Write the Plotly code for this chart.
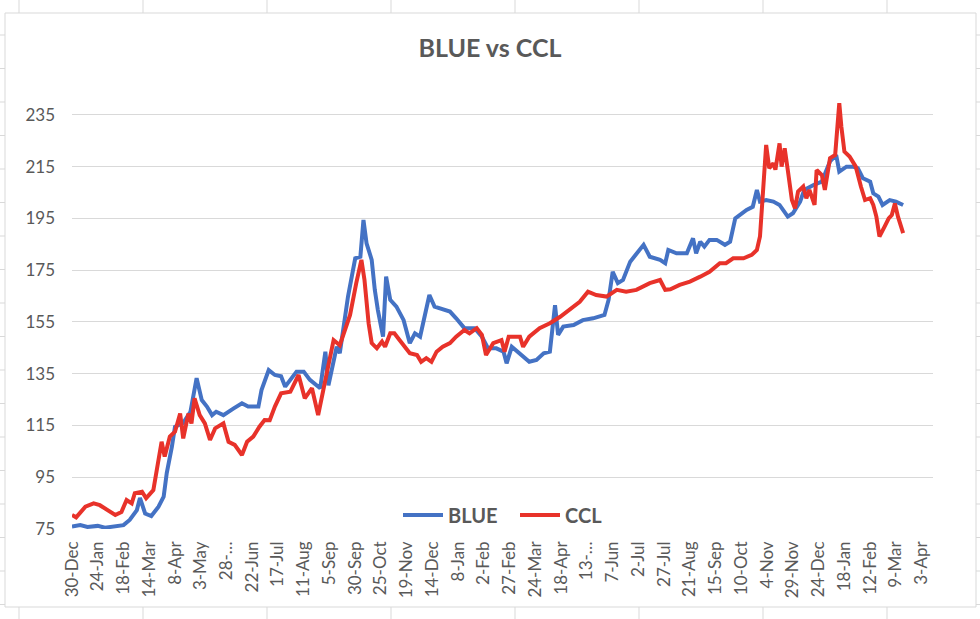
import plotly.graph_objects as go

# ---------------- data ----------------
blue_dates = [
    "2019-12-30", "2020-01-07", "2020-01-14", "2020-01-24", "2020-01-31", "2020-02-08",
    "2020-02-18", "2020-02-24", "2020-03-02", "2020-03-05", "2020-03-10", "2020-03-16",
    "2020-03-23", "2020-03-28", "2020-03-31", "2020-04-05", "2020-04-08", "2020-04-16",
    "2020-04-23", "2020-04-29", "2020-05-04", "2020-05-09", "2020-05-14", "2020-05-18",
    "2020-05-25", "2020-06-04", "2020-06-12", "2020-06-18", "2020-06-28", "2020-07-01",
    "2020-07-08", "2020-07-14", "2020-07-20", "2020-07-24", "2020-08-04", "2020-08-11",
    "2020-08-17", "2020-08-27", "2020-09-01", "2020-09-04", "2020-09-12", "2020-09-15",
    "2020-09-23", "2020-09-30", "2020-10-05", "2020-10-08", "2020-10-11", "2020-10-16",
    "2020-10-19", "2020-10-22", "2020-10-27", "2020-10-30", "2020-11-03", "2020-11-09",
    "2020-11-16", "2020-11-22", "2020-11-27", "2020-12-02", "2020-12-11", "2020-12-16",
    "2020-12-21", "2020-12-31", "2021-01-06", "2021-01-14", "2021-01-24", "2021-01-31",
    "2021-02-06", "2021-02-14", "2021-02-21", "2021-02-24", "2021-03-01", "2021-03-09",
    "2021-03-18", "2021-03-25", "2021-04-01", "2021-04-07", "2021-04-12", "2021-04-15",
    "2021-04-20", "2021-04-30", "2021-05-09", "2021-05-19", "2021-05-30", "2021-06-03",
    "2021-06-07", "2021-06-12", "2021-06-17", "2021-06-24", "2021-07-07", "2021-07-13",
    "2021-07-23", "2021-07-28", "2021-07-31", "2021-08-08", "2021-08-18", "2021-08-24",
    "2021-08-27", "2021-08-31", "2021-09-04", "2021-09-09", "2021-09-16", "2021-09-24",
    "2021-09-29", "2021-10-04", "2021-10-08", "2021-10-15", "2021-10-21", "2021-10-25",
    "2021-10-28", "2021-11-03", "2021-11-10", "2021-11-16", "2021-11-24", "2021-11-29",
    "2021-12-06", "2021-12-10", "2021-12-19", "2021-12-27", "2022-01-04", "2022-01-10",
    "2022-01-13", "2022-01-20", "2022-01-26", "2022-01-31", "2022-02-05", "2022-02-12",
    "2022-02-15", "2022-02-20", "2022-02-24", "2022-03-03", "2022-03-09", "2022-03-16",
]
blue_values = [
    76.0, 76.5, 75.8, 76.2, 75.5, 76.0,
    76.5, 78.5, 82.3, 87.0, 81.0, 80.0,
    83.6, 87.5, 96.6, 106.8, 114.5, 116.0,
    120.3, 133.3, 124.8, 122.3, 119.0, 120.3,
    119.0, 121.6, 123.6, 122.3, 122.3, 128.7,
    136.4, 134.5, 134.0, 130.0, 135.8, 135.8,
    132.6, 129.4, 143.5, 130.5, 145.4, 142.9,
    164.8, 179.6, 180.2, 194.4, 185.4, 179.0,
    167.4, 159.6, 149.3, 172.5, 163.5, 160.9,
    155.7, 146.8, 150.6, 149.3, 165.4, 160.9,
    160.3, 159.0, 156.4, 152.6, 152.6, 149.3,
    144.8, 144.8, 143.5, 139.0, 145.4, 142.9,
    139.6, 140.3, 142.9, 143.5, 161.5, 150.0,
    153.2, 153.8, 155.7, 156.4, 157.7, 163.5,
    174.4, 170.0, 171.2, 178.3, 184.8, 180.2,
    179.0, 177.7, 182.8, 181.5, 181.5, 187.3,
    181.5, 186.0, 184.1, 186.7, 186.7, 184.8,
    186.0, 195.0, 196.3, 198.3, 199.5, 206.0,
    201.5, 202.1, 201.5, 200.2, 195.7, 197.0,
    201.5, 206.0, 207.9, 209.2, 217.0, 219.5,
    213.1, 215.0, 215.0, 214.4, 210.5, 209.2,
    204.7, 203.4, 200.2, 202.1, 201.5, 200.2,
]

ccl_dates = [
    "2019-12-30", "2020-01-03", "2020-01-12", "2020-01-20", "2020-01-26", "2020-02-02",
    "2020-02-10", "2020-02-16", "2020-02-21", "2020-02-26", "2020-02-29", "2020-03-07",
    "2020-03-11", "2020-03-18", "2020-03-21", "2020-03-26", "2020-03-29", "2020-04-03",
    "2020-04-08", "2020-04-13", "2020-04-16", "2020-04-21", "2020-04-24", "2020-04-27",
    "2020-05-02", "2020-05-07", "2020-05-12", "2020-05-17", "2020-05-25", "2020-05-30",
    "2020-06-05", "2020-06-12", "2020-06-17", "2020-06-23", "2020-06-29", "2020-07-04",
    "2020-07-09", "2020-07-14", "2020-07-20", "2020-07-29", "2020-08-06", "2020-08-12",
    "2020-08-19", "2020-08-25", "2020-08-30", "2020-09-09", "2020-09-15", "2020-09-25",
    "2020-10-01", "2020-10-06", "2020-10-09", "2020-10-13", "2020-10-16", "2020-10-21",
    "2020-10-26", "2020-10-29", "2020-11-03", "2020-11-07", "2020-11-12", "2020-11-17",
    "2020-11-22", "2020-11-29", "2020-12-03", "2020-12-08", "2020-12-13", "2020-12-18",
    "2020-12-24", "2020-12-31", "2021-01-06", "2021-01-14", "2021-01-19", "2021-01-26",
    "2021-01-31", "2021-02-04", "2021-02-11", "2021-02-19", "2021-02-22", "2021-02-26",
    "2021-03-09", "2021-03-12", "2021-03-18", "2021-03-28", "2021-04-07", "2021-04-17",
    "2021-04-26", "2021-05-06", "2021-05-14", "2021-05-22", "2021-06-01", "2021-06-11",
    "2021-06-20", "2021-06-30", "2021-07-13", "2021-07-23", "2021-07-28", "2021-08-02",
    "2021-08-11", "2021-08-21", "2021-08-31", "2021-09-09", "2021-09-19", "2021-09-25",
    "2021-10-02", "2021-10-12", "2021-10-20", "2021-10-25", "2021-10-28", "2021-10-31",
    "2021-11-03", "2021-11-06", "2021-11-10", "2021-11-12", "2021-11-16", "2021-11-18",
    "2021-11-21", "2021-11-24", "2021-11-28", "2021-12-01", "2021-12-04", "2021-12-09",
    "2021-12-12", "2021-12-15", "2021-12-20", "2021-12-22", "2021-12-27", "2021-12-30",
    "2022-01-04", "2022-01-09", "2022-01-11", "2022-01-13", "2022-01-15", "2022-01-18",
    "2022-01-23", "2022-01-29", "2022-02-03", "2022-02-07", "2022-02-12", "2022-02-15",
    "2022-02-18", "2022-02-21", "2022-02-26", "2022-03-02", "2022-03-05", "2022-03-08",
    "2022-03-11", "2022-03-16",
]
ccl_values = [
    80.4, 79.5, 83.6, 84.9, 84.2, 82.3,
    80.4, 81.6, 86.2, 84.9, 88.8, 89.4,
    86.9, 90.0, 96.5, 108.7, 103.0, 110.7,
    112.6, 119.6, 110.0, 119.6, 115.8, 125.5,
    119.0, 115.8, 109.4, 113.9, 115.8, 108.7,
    107.5, 103.6, 108.7, 110.7, 114.5, 117.1,
    117.0, 122.3, 127.4, 128.0, 134.5, 125.5,
    129.4, 119.0, 128.7, 148.0, 146.0, 157.7,
    170.0, 179.0, 171.2, 154.5, 146.8, 144.8,
    147.4, 145.4, 150.6, 150.6, 148.0, 145.4,
    142.9, 142.2, 139.6, 141.0, 139.6, 143.5,
    145.4, 146.8, 149.3, 151.9, 150.6, 152.6,
    150.0, 142.2, 146.8, 148.0, 143.5, 149.3,
    149.3, 145.4, 149.3, 152.6, 154.5, 157.0,
    159.6, 162.8, 166.7, 165.4, 164.8, 167.4,
    166.7, 167.4, 170.0, 171.2, 167.4, 167.6,
    169.3, 170.6, 172.5, 174.4, 177.7, 177.7,
    179.6, 179.6, 180.9, 182.8, 188.0, 203.4,
    223.4, 214.4, 216.3, 213.8, 224.0, 215.0,
    222.1, 213.7, 202.1, 198.9, 205.4, 207.3,
    202.8, 206.0, 200.2, 213.7, 211.8, 206.0,
    218.3, 219.5, 231.8, 239.5, 230.5, 220.8,
    218.9, 215.0, 207.3, 202.1, 202.8, 200.2,
    195.7, 188.0, 191.8, 195.0, 196.3, 200.8,
    195.7, 189.3,
]

tick_dates = [
    "2019-12-30", "2020-01-24", "2020-02-18", "2020-03-14", "2020-04-08", "2020-05-03",
    "2020-05-28", "2020-06-22", "2020-07-17", "2020-08-11", "2020-09-05", "2020-09-30",
    "2020-10-25", "2020-11-19", "2020-12-14", "2021-01-08", "2021-02-02", "2021-02-27",
    "2021-03-24", "2021-04-18", "2021-05-13", "2021-06-07", "2021-07-02", "2021-07-27",
    "2021-08-21", "2021-09-15", "2021-10-10", "2021-11-04", "2021-11-29", "2021-12-24",
    "2022-01-18", "2022-02-12", "2022-03-09", "2022-04-03",
]
tick_labels = [
    "30-Dec", "24-Jan", "18-Feb", "14-Mar", "8-Apr", "3-May",
    "28-…", "22-Jun", "17-Jul", "11-Aug", "5-Sep", "30-Sep",
    "25-Oct", "19-Nov", "14-Dec", "8-Jan", "2-Feb", "27-Feb",
    "24-Mar", "18-Apr", "13-…", "7-Jun", "2-Jul", "27-Jul",
    "21-Aug", "15-Sep", "10-Oct", "4-Nov", "29-Nov", "24-Dec",
    "18-Jan", "12-Feb", "9-Mar", "3-Apr",
]
y_ticks = [75, 95, 115, 135, 155, 175, 195, 215, 235]

# ---------------- layout geometry (pixels) ----------------
W, H = 980, 619
PL, PR, PT, PB = 72, 933, 89, 529  # plot area edges


def px(x):
    return (x - PL) / (PR - PL)


def py(y):
    return (PB - y) / (PB - PT)


GRAY = "#595959"
GRID = "#D9D9D9"
FONT = "Lato"

fig = go.Figure()
fig.add_trace(go.Scatter(x=blue_dates, y=blue_values, mode="lines", name="BLUE",
                         line=dict(color="#4472C4", width=4)))
fig.add_trace(go.Scatter(x=ccl_dates, y=ccl_values, mode="lines", name="CCL",
                         line=dict(color="#E8322A", width=4)))

shapes = []
# chart-area border
shapes.append(dict(type="rect", xref="paper", yref="paper",
                   x0=px(5), x1=px(976), y0=py(607), y1=py(13),
                   line=dict(color=GRID, width=1), fillcolor="rgba(0,0,0,0)", layer="below"))
# spreadsheet cell borders peeking around the chart
for cx in [19, 143, 267, 391, 515, 639, 763, 887]:
    shapes.append(dict(type="line", xref="paper", yref="paper", x0=px(cx), x1=px(cx),
                       y0=py(0), y1=py(13), line=dict(color=GRID, width=1)))
    shapes.append(dict(type="line", xref="paper", yref="paper", x0=px(cx), x1=px(cx),
                       y0=py(607), y1=py(619), line=dict(color=GRID, width=1)))
for k in range(18):
    cy = 35 + 33.5 * k
    shapes.append(dict(type="line", xref="paper", yref="paper", x0=px(0), x1=px(5),
                       y0=py(cy), y1=py(cy), line=dict(color=GRID, width=1)))
    shapes.append(dict(type="line", xref="paper", yref="paper", x0=px(976), x1=px(980),
                       y0=py(cy), y1=py(cy), line=dict(color=GRID, width=1)))

fig.update_layout(
    width=W, height=H,
    margin=dict(l=PL, r=W - PR, t=PT, b=H - PB, pad=0),
    paper_bgcolor="white", plot_bgcolor="white",
    font=dict(family=FONT, color=GRAY),
    title=dict(text="BLUE vs CCL", x=0.5, xref="container", xanchor="center",
               y=1 - 48 / H, yref="container", yanchor="middle",
               font=dict(family=FONT, size=25, color=GRAY, weight="bold")),
    showlegend=True,
    legend=dict(orientation="h", x=px(398), xanchor="left", y=py(515), yanchor="middle",
                bgcolor="rgba(0,0,0,0)", font=dict(family=FONT, size=20, color=GRAY, weight="bold"),
                itemwidth=40, entrywidth=62, entrywidthmode="pixels", traceorder="normal"),
    shapes=shapes,
    xaxis=dict(type="date", range=["2019-12-30", "2022-04-14"],
               tickmode="array", tickvals=tick_dates, ticktext=tick_labels,
               tickangle=-90, tickfont=dict(family=FONT, size=17, color=GRAY),
               showgrid=False, zeroline=False, showline=False, ticks="",
               ticklabelstandoff=8),
    yaxis=dict(range=[75, 245], tickmode="array", tickvals=y_ticks,
               tickfont=dict(family=FONT, size=17, color=GRAY),
               showgrid=True, gridcolor=GRID, gridwidth=1, zeroline=False,
               showline=False, ticks="", ticklabelstandoff=16),
)

fig.write_html(
    "out.html",
    config={"displayModeBar": False},
    post_script="document.body.style.margin='0px';document.body.style.overflow='hidden';",
)
